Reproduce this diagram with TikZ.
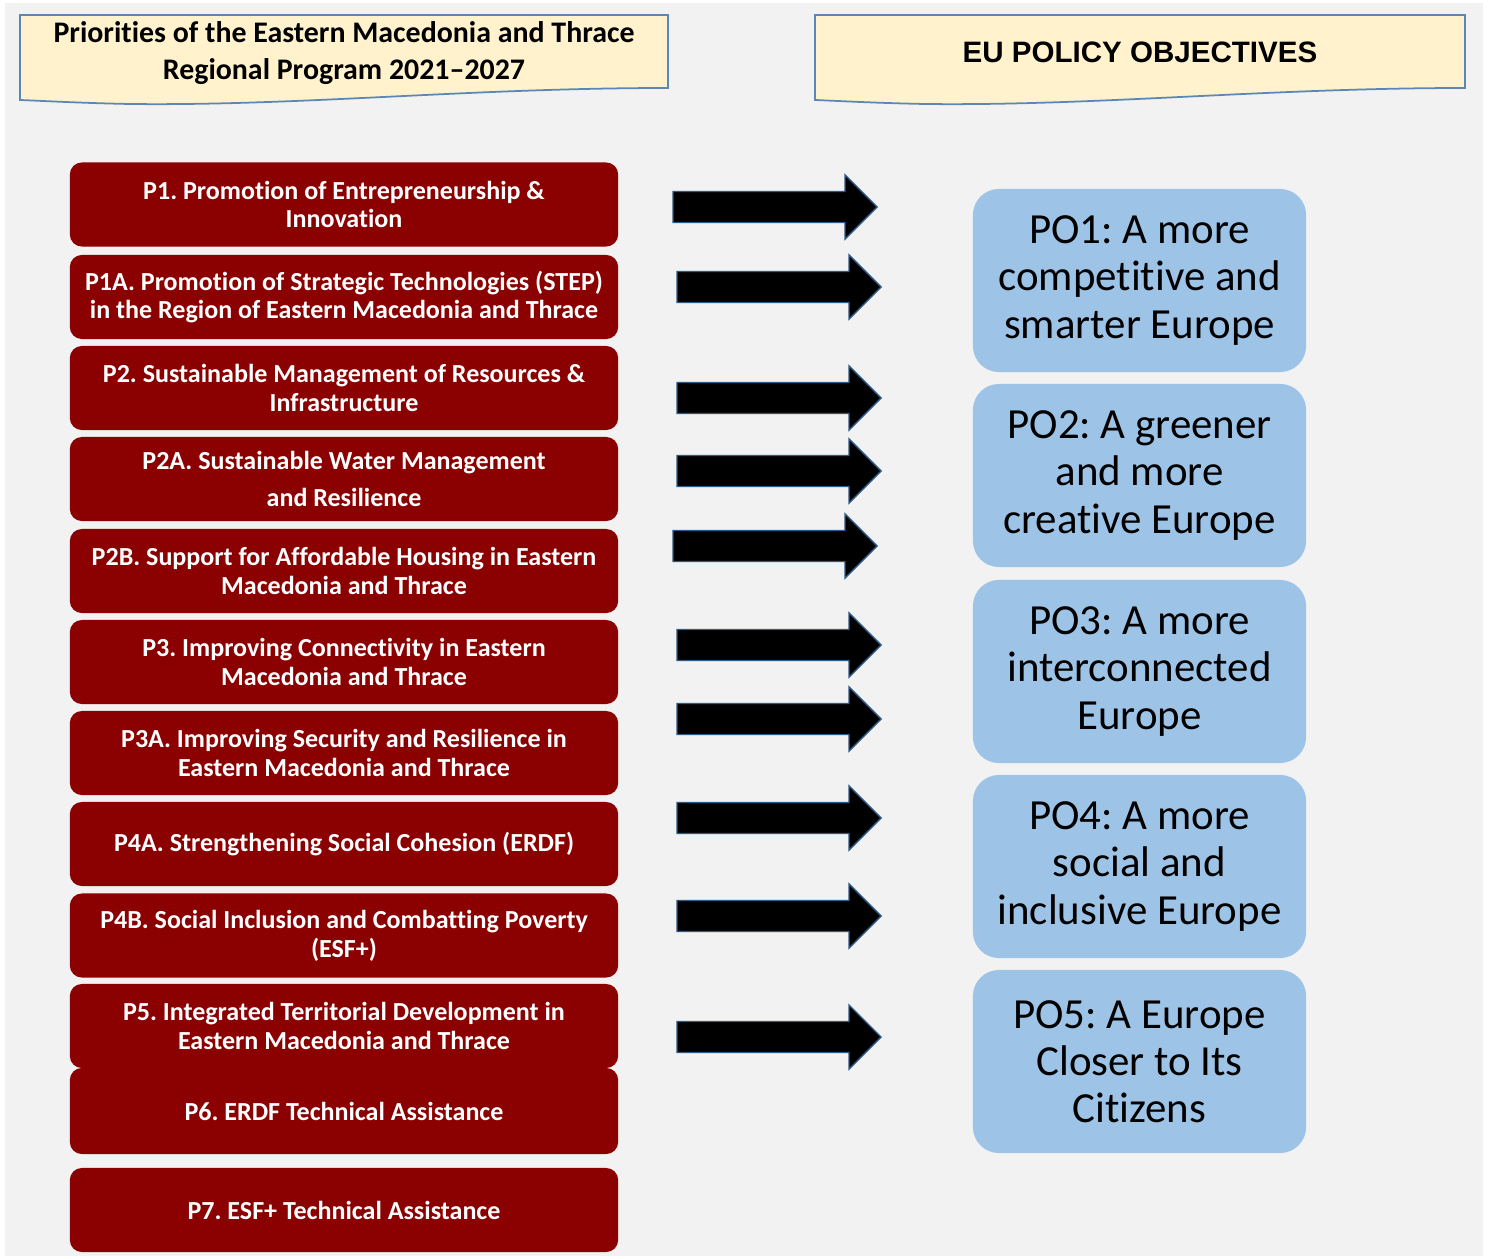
\documentclass[tikz,border=0pt]{standalone}
\usepackage{fontspec}
\setmainfont{Carlito}[Ligatures=NoCommon]
\newfontfamily\arialfont{Liberation Sans}
\usepackage{tikz}
\usetikzlibrary{positioning}

\definecolor{bggray}{HTML}{F2F2F2}
\definecolor{prioRed}{HTML}{8B0000}
\definecolor{objBlue}{HTML}{9DC3E6}
\definecolor{headFill}{HTML}{FFF2CC}
\definecolor{headEdge}{HTML}{5B87B8}
\definecolor{arrowEdge}{HTML}{2E5A87}

\tikzset{
  prio/.style={rectangle, rounded corners=0.12cm, fill=prioRed, text=white,
    minimum width=5.48cm, minimum height=0.84cm, align=center,
    font=\fontsize{7.4}{8.2}\selectfont\bfseries, inner sep=0pt},
  obj/.style={rectangle, rounded corners=0.26cm, fill=objBlue, text=black,
    minimum width=3.33cm, minimum height=1.83cm, align=center,
    font=\fontsize{12.2}{13.4}\selectfont, inner sep=0pt},
  headbox/.style={fill=headFill, draw=headEdge, line width=0.5pt},
  blockarrow/.style={fill=black, draw=arrowEdge, line width=0.4pt},
}

\begin{document}
\frenchspacing
\begin{tikzpicture}[x=0.01cm, y=-0.01cm]
\useasboundingbox (0,0) rectangle (1489,1258);
% Background
\fill[bggray] (5,3) rectangle (1483,1256);

% Headers
\draw[headbox] (20,15) -- (668,15) -- (668,88)
  .. controls (470,88) and (300,106) .. (130,104)
  .. controls (80,103) and (45,101) .. (20,100) -- cycle;
\node[align=center, font=\fontsize{8.5}{10.5}\selectfont\bfseries] (hleft) at (344,53.5)
  {Priorities of the Eastern Macedonia and Thrace\\Regional Program 2021--2027};

\draw[headbox] (815,15) -- (1465,15) -- (1465,88)
  .. controls (1267,88) and (1097,106) .. (925,104)
  .. controls (875,103) and (840,101) .. (815,100) -- cycle;
\node[font=\fontsize{8.4}{9}\selectfont\arialfont\bfseries] (hright) at (1140,52) {EU POLICY OBJECTIVES};

% Priorities
\node[prio] (p1)  at (344,204.5) {P1. Promotion of Entrepreneurship \&\\Innovation};
\node[prio] (p1a) at (344,297) {P1A. Promotion of Strategic Technologies (STEP)\\in the Region of Eastern Macedonia and Thrace};
\node[prio] (p2)  at (344,388) {P2. Sustainable Management of Resources \&\\Infrastructure};
\node[prio] (p2a) at (344,479) {P2A. Sustainable Water Management\\[0.09cm]and Resilience};
\node[prio] (p2b) at (344,571) {P2B. Support for Affordable Housing in Eastern\\Macedonia and Thrace};
\node[prio] (p3)  at (344,662) {P3. Improving Connectivity in Eastern\\Macedonia and Thrace};
\node[prio] (p3a) at (344,753) {P3A. Improving Security and Resilience in\\Eastern Macedonia and Thrace};
\node[prio] (p4a) at (344,844) {P4A. Strengthening Social Cohesion (ERDF)};
\node[prio] (p4b) at (344,935.5) {P4B. Social Inclusion and Combatting Poverty\\(ESF+)};
\node[prio] (p5)  at (344,1026) {P5. Integrated Territorial Development in\\Eastern Macedonia and Thrace};
\node[prio, minimum height=0.86cm] (p6) at (344,1111) {P6. ERDF Technical Assistance};
\node[prio] (p7)  at (344,1210) {P7. ESF+ Technical Assistance};

% Block arrows
\foreach \ay/\ax in {207/673, 287/677, 398/677, 471/677, 546/673, 645/677, 719/677, 818/677, 916/677, 1037/677}
  \draw[blockarrow] (\ax,{\ay-15.5}) -- ({\ax+172},{\ay-15.5}) -- ({\ax+172},{\ay-32})
    -- ({\ax+204},\ay) -- ({\ax+172},{\ay+32}) -- ({\ax+172},{\ay+15.5})
    -- (\ax,{\ay+15.5}) -- cycle;

% Policy objectives
\node[obj] (po1) at (1139.5,280.5) {PO1: A more\\competitive and\\smarter Europe};
\node[obj] (po2) at (1139.5,475.5) {PO2: A greener\\and more\\creative Europe};
\node[obj] (po3) at (1139.5,671.5) {PO3: A more\\interconnected\\Europe};
\node[obj] (po4) at (1139.5,866.5) {PO4: A more\\social and\\inclusive Europe};
\node[obj] (po5) at (1139.5,1061.5) {PO5: A Europe\\Closer to Its\\Citizens};
\end{tikzpicture}
\end{document}
